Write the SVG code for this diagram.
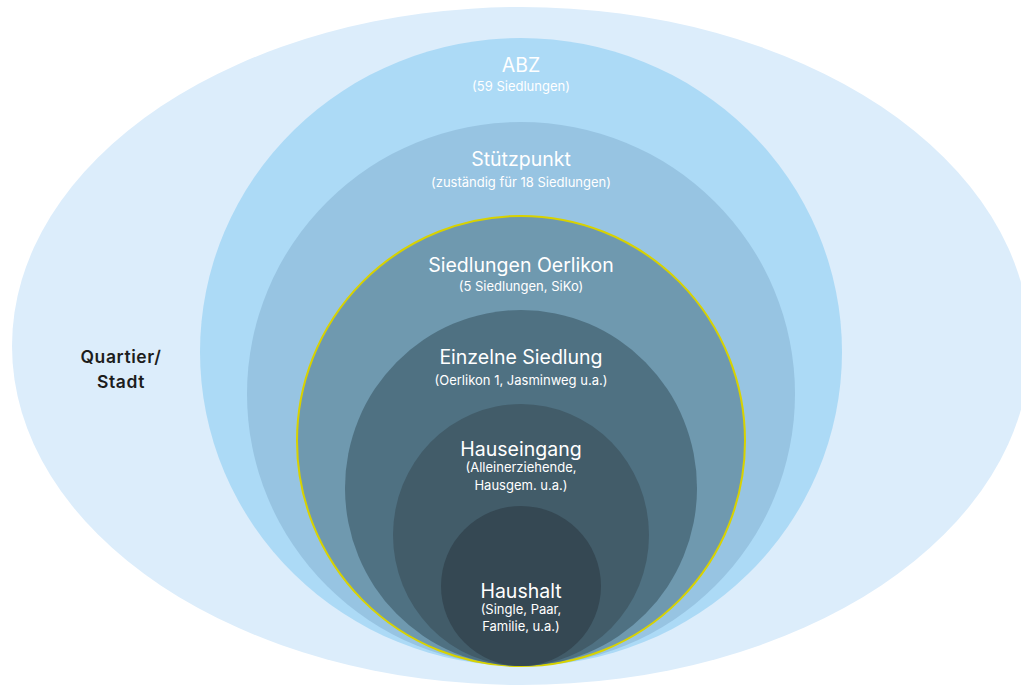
<svg xmlns="http://www.w3.org/2000/svg" width="1021" height="686" viewBox="0 0 1021 686">
  <style>
    .title { font-family: Inter, "Open Sans", "Liberation Sans", sans-serif; font-size: 19.5px; fill: #ffffff; text-anchor: middle; }
    .sub { font-family: Inter, "Open Sans", "Liberation Sans", sans-serif; font-size: 13px; fill: #ffffff; text-anchor: middle; }
    .outer { font-family: Inter, "Open Sans", "Liberation Sans", sans-serif; font-size: 17.5px; font-weight: 600; letter-spacing: 0.6px; fill: #1d1d1d; text-anchor: middle; }
  </style>
  <rect width="1021" height="686" fill="#ffffff"/>

  <!-- Quartier / Stadt -->
  <g id="quartier">
    <ellipse cx="521" cy="346" rx="509" ry="339" fill="#dcedfb"/>
    <text class="outer" x="121" y="363">Quartier/</text>
    <text class="outer" x="121" y="388">Stadt</text>
  </g>

  <!-- ABZ -->
  <g id="abz">
    <ellipse cx="521" cy="352" rx="321" ry="314" fill="#acdaf6"/>
    <text class="title" x="521" y="72">ABZ</text>
    <text class="sub" x="521" y="91">(59 Siedlungen)</text>
  </g>

  <!-- Stützpunkt -->
  <g id="stuetzpunkt">
    <ellipse cx="521" cy="394" rx="274" ry="272" fill="#97c4e2"/>
    <text class="title" x="521" y="166">Stützpunkt</text>
    <text class="sub" x="521" y="187">(zuständig für 18 Siedlungen)</text>
  </g>

  <!-- Siedlungen Oerlikon -->
  <g id="oerlikon">
    <ellipse cx="521" cy="441" rx="224" ry="225" fill="#6f99af" stroke="#d8d200" stroke-width="2"/>
    <text class="title" x="521" y="272">Siedlungen Oerlikon</text>
    <text class="sub" x="521" y="291">(5 Siedlungen, SiKo)</text>
  </g>

  <!-- Einzelne Siedlung -->
  <g id="siedlung">
    <ellipse cx="521" cy="488" rx="176" ry="178" fill="#4f7182"/>
    <text class="title" x="521" y="364">Einzelne Siedlung</text>
    <text class="sub" x="521" y="385">(Oerlikon 1, Jasminweg u.a.)</text>
  </g>

  <!-- Hauseingang -->
  <g id="hauseingang">
    <ellipse cx="521" cy="535" rx="128" ry="131" fill="#425c69"/>
    <text class="title" x="521" y="456">Hauseingang</text>
    <text class="sub" x="521" y="472">(Alleinerziehende,</text>
    <text class="sub" x="521" y="490">Hausgem. u.a.)</text>
  </g>

  <!-- Haushalt -->
  <g id="haushalt">
    <ellipse cx="521" cy="586" rx="80" ry="80" fill="#354853"/>
    <text class="title" x="521" y="598">Haushalt</text>
    <text class="sub" x="521" y="614">(Single, Paar,</text>
    <text class="sub" x="521" y="631">Familie, u.a.)</text>
  </g>

  <g id="connectors"/>
</svg>
